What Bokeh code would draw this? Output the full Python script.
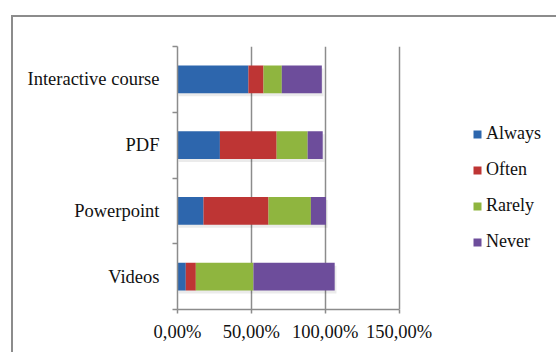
from bokeh.plotting import figure
from bokeh.models import FixedTicker, Legend, LegendItem, ColumnDataSource, InlineStyleSheet
from bokeh.embed import file_html
from bokeh.resources import INLINE

# ---- data (bottom to top, as drawn) ----
categories = ["Videos", "Powerpoint", "PDF", "Interactive course"]
always = [5.6, 17.6, 28.7, 48.0]
often = [6.8, 44.0, 38.4, 10.2]
rarely = [39.0, 28.7, 21.0, 12.4]
never = [55.0, 10.2, 10.2, 27.1]
series_names = ["Always", "Often", "Rarely", "Never"]
series_colors = ["#2d66ad", "#be3534", "#8fb53f", "#6d4d9b"]
x_ticks = [0, 50, 100, 150]
x_tick_labels = ["0,00%", "50,00%", "100,00%", "150,00%"]

FONT = "Liberation Serif"
GRAY = "#8c8c8c"

W, H = 556, 352
left_px, top_px, bottom_px, right_px = 177, 46, 43, 11
frame_w = W - left_px - right_px
px_per_unit = 221.6 / 150.0
x_end = frame_w / px_per_unit

p = figure(width=W, height=H, output_backend="svg", toolbar_location=None,
           x_range=(0, x_end), y_range=(0, len(categories)),
           min_border_left=left_px, min_border_right=right_px,
           min_border_top=top_px, min_border_bottom=bottom_px)
p.outline_line_color = None
p.background_fill_color = "white"
p.border_fill_color = "white"

ys = [i + 0.5 for i in range(len(categories))]
totals = [a + b + c + d for a, b, c, d in zip(always, often, rarely, never)]

# soft shadow under each bar
shadow = ColumnDataSource(dict(y=[y - 0.045 for y in ys], right=[t + 1.2 for t in totals]))
p.hbar(y="y", left=0.8, right="right", height=0.42, source=shadow,
       fill_color="black", fill_alpha=0.08, line_color=None)

src = ColumnDataSource(dict(y=ys, Always=always, Often=often, Rarely=rarely, Never=never))
renderers = p.hbar_stack(series_names, y="y", height=0.42, color=series_colors,
                         source=src, line_color=None)

# x axis
xa = p.xaxis[0]
xa.ticker = FixedTicker(ticks=x_ticks)
xa.major_label_overrides = {t: l for t, l in zip(x_ticks, x_tick_labels)}
xa.bounds = (x_ticks[0], x_ticks[-1])
xa.axis_line_color = GRAY
xa.axis_line_width = 1.5
xa.major_tick_line_color = GRAY
xa.major_tick_line_width = 1.5
xa.major_tick_in = 0
xa.major_tick_out = 4
xa.minor_tick_line_color = None
xa.major_label_text_font = FONT
xa.major_label_text_font_size = "18.5px"
xa.major_label_text_color = "#111111"
xa.major_label_standoff = 8

# y axis
ya = p.yaxis[0]
ya.ticker = FixedTicker(ticks=ys, minor_ticks=list(range(len(categories) + 1)))
ya.major_label_overrides = {y: c for y, c in zip(ys, categories)}
ya.axis_line_color = GRAY
ya.axis_line_width = 1.5
ya.major_tick_line_color = None
ya.minor_tick_line_color = GRAY
ya.minor_tick_line_width = 1.5
ya.minor_tick_in = 0
ya.minor_tick_out = 5
ya.major_label_text_font = FONT
ya.major_label_text_font_size = "18.5px"
ya.major_label_text_color = "#111111"
ya.major_label_standoff = 12

# grid
p.ygrid.grid_line_color = None
p.xgrid.ticker = FixedTicker(ticks=x_ticks[1:])
p.xgrid.grid_line_color = GRAY
p.xgrid.grid_line_width = 1.5

# legend
items = [LegendItem(label=n, renderers=[r]) for n, r in zip(series_names, renderers)]
legend = Legend(items=items, location=(295, 57), padding=0, margin=0,
                glyph_width=10, glyph_height=10, label_height=21, spacing=15,
                label_standoff=4, border_line_color=None, background_fill_alpha=0,
                label_text_font=FONT, label_text_font_size="18px", label_text_color="#111111")
p.add_layout(legend)

# outer border of the chart area (continues beyond the right and bottom edges)
p.stylesheets = [InlineStyleSheet(css=""":host::after {
  content: "";
  position: absolute;
  left: 11px; top: 15px; right: 0; bottom: 0;
  border-left: 2px solid #8c8c8c;
  border-top: 2px solid #8c8c8c;
  pointer-events: none;
  z-index: 10;
}""")]

open("out.html", "w").write(file_html(p, INLINE))
